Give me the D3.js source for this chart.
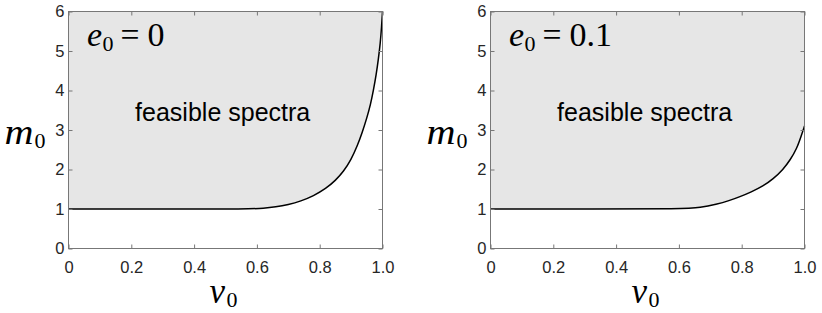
<!DOCTYPE html>
<html>
<head>
<meta charset="utf-8">
<script src="https://cdn.jsdelivr.net/npm/d3@7"></script>
<style>
  html, body { margin: 0; padding: 0; background: #fff; }
  svg text { font-family: "Liberation Sans", Arial, Helvetica, sans-serif; }
  .math { font-family: "Liberation Serif", "Times New Roman", serif; }
</style>
</head>
<body>
<svg id="chart" width="822" height="313"></svg>
<script>
// ── data ─────────────────────────────────────────────
const nuTicks      = [0, 0.2, 0.4, 0.6, 0.8, 1.0];
const nuTickLabels = ['0', '0.2', '0.4', '0.6', '0.8', '1.0'];
const mTicks       = [0, 1, 2, 3, 4, 5, 6];

// boundary of feasible region, e0 = 0
const nuE0  = [0, 0.3, 0.58, 0.62,  0.66, 0.70, 0.74, 0.78, 0.82, 0.85, 0.876, 0.90, 0.92, 0.936, 0.95, 0.962, 0.971, 0.98, 0.987, 0.993, 0.997, 1.0];
const mE0   = [1, 1,   1.0,  1.015, 1.05, 1.11, 1.2,  1.33, 1.52, 1.72, 1.95,  2.25, 2.6,  2.95,  3.3,  3.65,  4.0,   4.4,  4.8,   5.2,   5.6,   6.0];

// boundary of feasible region, e0 = 0.1
const nuE01 = [0, 0.3, 0.62, 0.667, 0.72, 0.76, 0.794, 0.83, 0.868, 0.90, 0.932, 0.955, 0.975, 0.99, 1.0];
const mE01  = [1, 1,   1.0,  1.035, 1.12, 1.21, 1.31,  1.43, 1.58,  1.76, 2.0,   2.25,  2.52,  2.86, 3.1];

const panelLabels = ['0', '0.1'];
const regionLabel = 'feasible spectra';

// ── layout ───────────────────────────────────────────
const svg = d3.select('#chart');
const panelX = [68.5, 490.5];
const plotW = 314, plotTop = 11.5, plotH = 237;

const y = d3.scaleLinear().domain([0, 6]).range([plotTop + plotH, plotTop]);

function drawPanel(x0, nu, m, eLabel) {
  const x = d3.scaleLinear().domain([0, 1]).range([x0, x0 + plotW]);
  const g = svg.append('g');
  const pts = nu.map((v, i) => [v, m[i]]);

  // shaded feasible region (above boundary)
  g.append('path').datum(pts)
    .attr('d', d3.area().x(d => x(d[0])).y0(y(6)).y1(d => y(d[1])).curve(d3.curveBasis))
    .attr('fill', '#e6e6e6');

  // boundary curve
  g.append('path').datum(pts)
    .attr('d', d3.line().x(d => x(d[0])).y(d => y(d[1])).curve(d3.curveBasis))
    .attr('fill', 'none').attr('stroke', '#000').attr('stroke-width', 1.5);

  // axes, ticks inward on all four sides
  const bottom = g.append('g').attr('transform', `translate(0,${plotTop + plotH})`)
    .call(d3.axisBottom(x).tickValues(nuTicks).tickFormat((d, i) => nuTickLabels[i]).tickSize(-4).tickPadding(13));
  const left = g.append('g').attr('transform', `translate(${x0},0)`)
    .call(d3.axisLeft(y).tickValues(mTicks).tickFormat(d3.format('d')).tickSize(-4).tickPadding(4));
  const topAx = g.append('g').attr('transform', `translate(0,${plotTop})`)
    .call(d3.axisTop(x).tickValues(nuTicks).tickFormat('').tickSize(-4));
  const right = g.append('g').attr('transform', `translate(${x0 + plotW},0)`)
    .call(d3.axisRight(y).tickValues(mTicks).tickFormat('').tickSize(-4));

  [bottom, left, topAx, right].forEach(a => {
    a.select('.domain').remove();
    a.selectAll('.tick line').attr('stroke', '#777');
    a.selectAll('text').attr('font-size', 16.5).attr('fill', '#262626')
      .attr('font-family', '"Liberation Sans", Arial, sans-serif');
  });

  // box
  g.append('rect').attr('x', x0).attr('y', plotTop).attr('width', plotW).attr('height', plotH)
    .attr('fill', 'none').attr('stroke', '#777').attr('stroke-width', 1);

  // region label
  g.append('text').attr('x', x(0.491)).attr('y', 120.5)
    .attr('text-anchor', 'middle').attr('font-size', 25).attr('fill', '#000')
    .text(regionLabel);

  // e0 = ... label
  const e = g.append('text').attr('class', 'math').attr('y', 45.5).attr('fill', '#000');
  e.append('tspan').attr('x', x0 + 18.5).attr('font-size', 34).attr('font-style', 'italic').text('e');
  e.append('tspan').attr('x', x0 + 34).attr('dy', 5).attr('font-size', 22).text('0');
  e.append('tspan').attr('x', x0 + 52).attr('dy', -5).attr('font-size', 34)
    .attr('textLength', 19).attr('lengthAdjust', 'spacingAndGlyphs').text('=');
  e.append('tspan').attr('x', x0 + 79).attr('font-size', 34).text(eLabel);

  // y label m0
  const ml = g.append('text').attr('class', 'math').attr('y', 144).attr('fill', '#000');
  ml.append('tspan').attr('x', x0 - 64).attr('font-size', 35).attr('font-style', 'italic')
    .attr('textLength', 29).attr('lengthAdjust', 'spacingAndGlyphs').text('m');
  ml.append('tspan').attr('x', x0 - 34).attr('dy', 4).attr('font-size', 22).text('0');

  // x label ν0
  const xl = g.append('text').attr('class', 'math').attr('y', 302.5).attr('fill', '#000');
  xl.append('tspan').attr('x', x0 + 141).attr('font-size', 35).attr('font-style', 'italic').text('ν');
  xl.append('tspan').attr('x', x0 + 158).attr('dy', 4).attr('font-size', 22).text('0');
}

drawPanel(panelX[0], nuE0, mE0, panelLabels[0]);
drawPanel(panelX[1], nuE01, mE01, panelLabels[1]);
</script>
</body>
</html>
